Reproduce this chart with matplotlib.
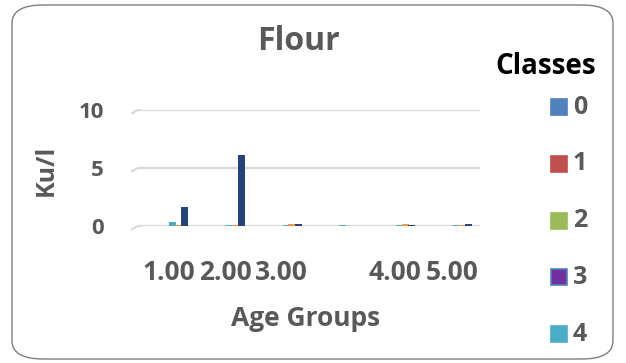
import matplotlib.pyplot as plt
import numpy as np
from matplotlib.patches import FancyBboxPatch

plt.rcParams['font.family'] = ['Open Sans', 'DejaVu Sans']

# age groups on the x axis (the 4th group carries no label)
age_groups = ['1.00', '2.00', '3.00', '', '4.00', '5.00']

# values per group for the three bar series
cyan_vals = [0.35, 0.10, 0.05, 0.05, 0.12, 0.05]
orange_vals = [0.05, 0.12, 0.20, 0.00, 0.15, 0.08]
navy_vals = [1.60, 6.10, 0.15, 0.00, 0.08, 0.18]

classes = ['0', '1', '2', '3', '4']
class_colors = ['#4F81BD', '#C0504D', '#9BBB59', '#7030A0', '#4BACC6']
class_edges = ['#4F81BD', '#C0504D', '#9BBB59', '#4F81BD', '#4BACC6']

yticks = [0, 5, 10]

grey = '#595959'

fig = plt.figure(figsize=(6.26, 3.63), dpi=100)

# rounded chart border
border = FancyBboxPatch((12 / 626, 4 / 363), 601 / 626, 354 / 363,
                        boxstyle='round,pad=0,rounding_size=0.05',
                        transform=fig.transFigure, facecolor='none',
                        edgecolor='#7F7F7F', linewidth=1.0, zorder=-1)
fig.patches.append(border)

ax = fig.add_axes([140 / 626, 1 - 226 / 363, 340 / 626, 116 / 363])
ax.set_facecolor('none')

x = np.arange(len(age_groups))
w = 0.12
ax.bar(x + 0.08, cyan_vals, w, color='#4BACC6', zorder=3)
ax.bar(x + 0.18, orange_vals, w, color='#F79646', zorder=3)
ax.bar(x + 0.29, navy_vals, w, color='#264478', zorder=3)

ax.set_xlim(-0.5, len(age_groups) - 0.5)
ax.set_ylim(0, 10)
ax.set_yticks(yticks)
ax.set_xticks(x)
ax.set_xticklabels(age_groups)
for yt in yticks:
    ax.axhline(yt, color='#D9D9D9', linewidth=1.6, zorder=1)
    # short slanted end of each gridline (3D floor edge)
    ax.plot([-0.64, -0.56, -0.5], [yt - 0.28, yt - 0.05, yt], color='#D9D9D9',
            linewidth=1.6, clip_on=False, zorder=1)

for s in ax.spines.values():
    s.set_visible(False)
ax.tick_params(axis='x', length=0, labelsize=19, labelcolor=grey, pad=24)
ax.tick_params(axis='y', length=0, labelsize=16, labelcolor=grey, pad=26)
for lbl in ax.get_xticklabels() + ax.get_yticklabels():
    lbl.set_fontweight('bold')

fig.text(46 / 626, 1 - 170 / 363, 'Ku/l', rotation=90, ha='center', va='center',
         fontsize=18, fontweight='bold', color=grey)
fig.text(306 / 626, 1 - 318 / 363, 'Age Groups', ha='center', va='center',
         fontsize=19, fontweight='bold', color=grey)
fig.text(298 / 626, 1 - 42 / 363, 'Flour', ha='center', va='center',
         fontsize=23, fontweight='bold', color=grey)

# legend drawn by hand
fig.text(546 / 626, 1 - 66 / 363, 'Classes', ha='center', va='center',
         fontsize=20, fontweight='bold', color='black')
for i, (name, fc, ec) in enumerate(zip(classes, class_colors, class_edges)):
    yc = 1 - (107 + i * 56.8) / 363
    fig.patches.append(plt.Rectangle((551 / 626, yc - 8 / 363), 16 / 626, 16 / 363,
                                     transform=fig.transFigure, facecolor=fc,
                                     edgecolor=ec, linewidth=1.2))
    fig.text(573 / 626, yc, name, ha='left', va='center', fontsize=18,
             fontweight='bold', color=grey)

fig.savefig('out.png', dpi=100)
